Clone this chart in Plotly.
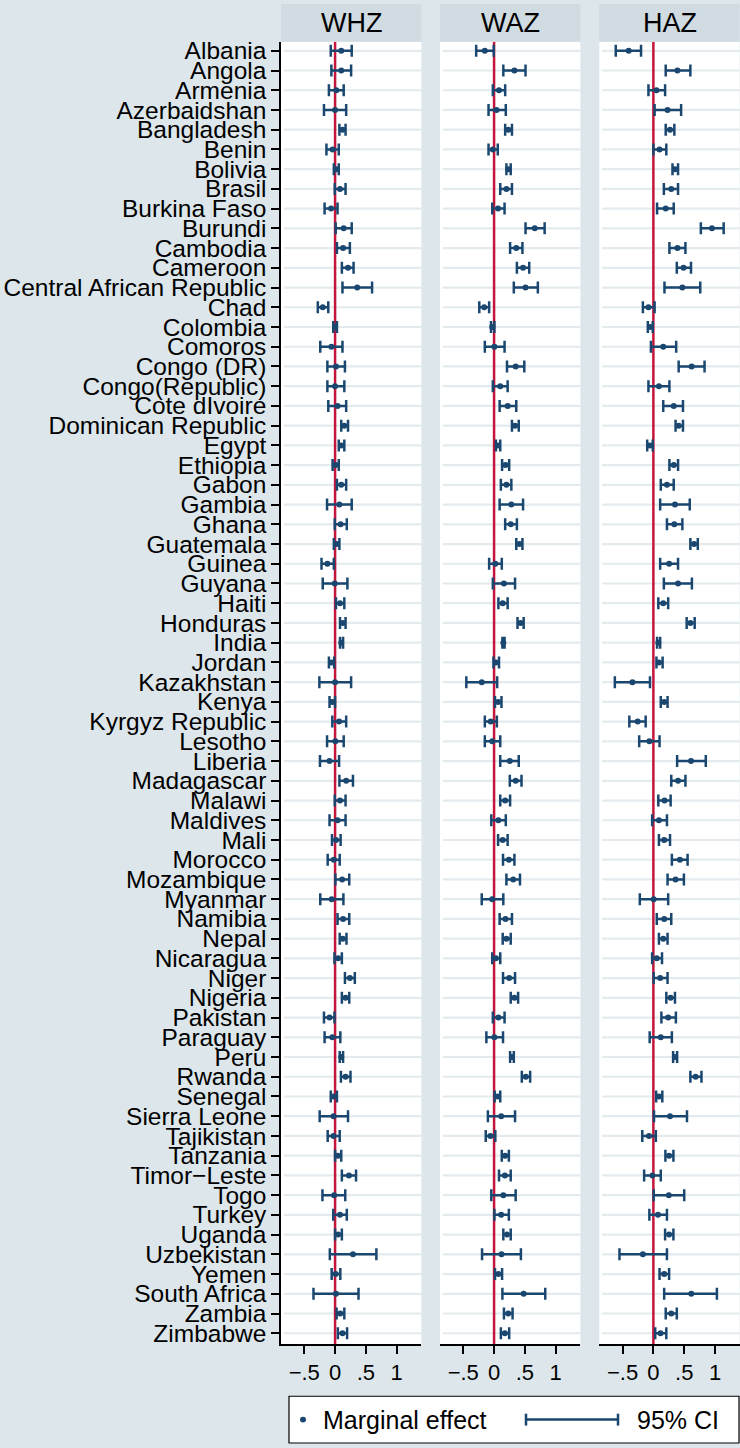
import plotly.graph_objects as go

countries = ["Albania", "Angola", "Armenia", "Azerbaidshan", "Bangladesh", "Benin", "Bolivia", "Brasil",
             "Burkina Faso", "Burundi", "Cambodia", "Cameroon", "Central African Republic", "Chad", "Colombia",
             "Comoros", "Congo (DR)", "Congo(Republic)", "Cote dIvoire", "Dominican Republic", "Egypt",
             "Ethiopia", "Gabon", "Gambia", "Ghana", "Guatemala", "Guinea", "Guyana", "Haiti", "Honduras",
             "India", "Jordan", "Kazakhstan", "Kenya", "Kyrgyz Republic", "Lesotho", "Liberia", "Madagascar",
             "Malawi", "Maldives", "Mali", "Morocco", "Mozambique", "Myanmar", "Namibia", "Nepal", "Nicaragua",
             "Niger", "Nigeria", "Pakistan", "Paraguay", "Peru", "Rwanda", "Senegal", "Sierra Leone",
             "Tajikistan", "Tanzania", "Timor\u2212Leste", "Togo", "Turkey", "Uganda", "Uzbekistan", "Yemen",
             "South Africa", "Zambia", "Zimbabwe"]

whz_lo = [-0.07, -0.06, -0.10, -0.18, 0.07, -0.14, -0.02, -0.005, -0.17, 0.01, 0.03, 0.11, 0.12, -0.28, -0.03,
          -0.24, -0.125, -0.125, -0.11, 0.10, 0.06, -0.04, 0.03, -0.13, -0.005, -0.02, -0.22, -0.20, 0.015, 0.08,
          0.08, -0.10, -0.255, -0.09, -0.045, -0.13, -0.245, 0.07, -0.005, -0.09, -0.05, -0.12, 0.005, -0.24,
          0.04, 0.075, -0.01, 0.16, 0.11, -0.18, -0.17, 0.075, 0.095, -0.07, -0.25, -0.12, 0.0, 0.11, -0.205,
          -0.03, 0.0, -0.085, -0.055, -0.35, 0.025, 0.045]
whz_est = [0.10, 0.10, 0.02, 0.0, 0.12, -0.04, 0.02, 0.08, -0.065, 0.14, 0.13, 0.21, 0.36, -0.20, 0.0,
           -0.06, 0.015, 0.0, 0.04, 0.15, 0.10, 0.01, 0.10, 0.07, 0.09, 0.03, -0.125, -0.005, 0.08, 0.125,
           0.10, -0.06, 0.0, -0.045, 0.065, 0.005, -0.09, 0.18, 0.08, 0.04, 0.015, -0.02, 0.115, -0.055,
           0.13, 0.125, 0.05, 0.24, 0.17, -0.09, -0.045, 0.10, 0.17, -0.025, -0.025, -0.025, 0.045, 0.225, -0.015,
           0.08, 0.05, 0.29, 0.01, 0.015, 0.085, 0.12]
whz_hi = [0.27, 0.26, 0.14, 0.18, 0.17, 0.06, 0.06, 0.17, 0.04, 0.27, 0.24, 0.30, 0.60, -0.11, 0.03,
          0.12, 0.16, 0.15, 0.18, 0.21, 0.15, 0.06, 0.18, 0.27, 0.19, 0.07, -0.02, 0.20, 0.15, 0.17,
          0.13, -0.015, 0.26, 0.0, 0.18, 0.14, 0.065, 0.29, 0.17, 0.17, 0.09, 0.075, 0.23, 0.135,
          0.23, 0.185, 0.11, 0.32, 0.23, -0.01, 0.085, 0.13, 0.25, 0.03, 0.21, 0.075, 0.10, 0.34, 0.165,
          0.19, 0.11, 0.67, 0.085, 0.38, 0.15, 0.195]

waz_lo = [-0.29, 0.15, -0.02, -0.09, 0.18, -0.09, 0.20, 0.10, -0.03, 0.51, 0.26, 0.37, 0.32, -0.24, -0.05,
          -0.15, 0.21, -0.02, 0.09, 0.29, 0.03, 0.13, 0.11, 0.09, 0.18, 0.36, -0.08, -0.02, 0.07, 0.38,
          0.135, -0.01, -0.45, 0.015, -0.15, -0.15, 0.10, 0.255, 0.10, -0.045, 0.065, 0.145, 0.20, -0.20,
          0.09, 0.14, -0.03, 0.145, 0.27, -0.02, -0.125, 0.26, 0.45, 0.01, -0.10, -0.135, 0.125, 0.08, -0.045,
          0.005, 0.15, -0.195, 0.015, 0.135, 0.16, 0.11]
waz_est = [-0.15, 0.33, 0.08, 0.04, 0.23, -0.02, 0.23, 0.20, 0.065, 0.66, 0.36, 0.47, 0.51, -0.16, -0.03,
           0.005, 0.35, 0.10, 0.22, 0.34, 0.06, 0.185, 0.20, 0.28, 0.27, 0.41, 0.02, 0.16, 0.14, 0.43,
           0.15, 0.03, -0.20, 0.065, -0.055, -0.03, 0.255, 0.35, 0.18, 0.07, 0.14, 0.24, 0.31, -0.03,
           0.185, 0.20, 0.03, 0.245, 0.33, 0.07, 0.005, 0.29, 0.515, 0.06, 0.115, -0.06, 0.18, 0.175, 0.15,
           0.115, 0.21, 0.12, 0.07, 0.48, 0.23, 0.175]
waz_hi = [-0.005, 0.51, 0.18, 0.19, 0.29, 0.06, 0.27, 0.29, 0.17, 0.82, 0.46, 0.57, 0.71, -0.08, 0.005,
          0.17, 0.49, 0.22, 0.36, 0.40, 0.10, 0.245, 0.28, 0.47, 0.37, 0.46, 0.125, 0.34, 0.22, 0.48,
          0.17, 0.08, 0.05, 0.12, 0.045, 0.10, 0.40, 0.445, 0.26, 0.19, 0.22, 0.33, 0.42, 0.15,
          0.29, 0.27, 0.10, 0.34, 0.39, 0.17, 0.145, 0.32, 0.585, 0.10, 0.34, 0.02, 0.24, 0.27, 0.35,
          0.24, 0.27, 0.435, 0.13, 0.83, 0.30, 0.245]

haz_lo = [-0.61, 0.20, -0.08, 0.02, 0.20, 0.0, 0.31, 0.17, 0.06, 0.77, 0.26, 0.38, 0.18, -0.17, -0.09,
          -0.04, 0.41, -0.08, 0.16, 0.36, -0.10, 0.26, 0.12, 0.11, 0.22, 0.60, 0.11, 0.17, 0.08, 0.54,
          0.06, 0.05, -0.625, 0.12, -0.39, -0.23, 0.385, 0.29, 0.08, -0.02, 0.09, 0.30, 0.23, -0.22,
          0.055, 0.09, -0.02, 0.005, 0.21, 0.13, -0.06, 0.32, 0.60, 0.045, 0.01, -0.18, 0.195, -0.15, 0.005,
          -0.065, 0.19, -0.55, 0.10, 0.175, 0.20, 0.03]
haz_est = [-0.40, 0.39, 0.05, 0.23, 0.27, 0.10, 0.35, 0.29, 0.20, 0.95, 0.39, 0.49, 0.47, -0.08, -0.05,
           0.16, 0.62, 0.09, 0.33, 0.41, -0.06, 0.33, 0.22, 0.35, 0.34, 0.66, 0.255, 0.40, 0.16, 0.60,
           0.08, 0.09, -0.34, 0.175, -0.255, -0.065, 0.61, 0.40, 0.18, 0.09, 0.175, 0.43, 0.36, 0.005,
           0.175, 0.16, 0.055, 0.11, 0.28, 0.24, 0.12, 0.35, 0.685, 0.09, 0.27, -0.07, 0.255, -0.015, 0.25,
           0.075, 0.255, -0.17, 0.175, 0.615, 0.29, 0.115]
haz_hi = [-0.20, 0.60, 0.19, 0.45, 0.34, 0.21, 0.40, 0.40, 0.33, 1.14, 0.52, 0.61, 0.76, 0.02, -0.01,
          0.37, 0.83, 0.26, 0.48, 0.48, -0.01, 0.40, 0.33, 0.59, 0.47, 0.72, 0.40, 0.625, 0.24, 0.67,
          0.11, 0.15, -0.055, 0.23, -0.125, 0.10, 0.85, 0.52, 0.28, 0.22, 0.27, 0.555, 0.495, 0.24,
          0.29, 0.23, 0.14, 0.23, 0.35, 0.365, 0.30, 0.385, 0.78, 0.145, 0.545, 0.04, 0.325, 0.12, 0.50,
          0.22, 0.325, 0.22, 0.255, 1.03, 0.38, 0.21]

panel_titles = ["WHZ", "WAZ", "HAZ"]
tick_vals = [-0.5, 0, 0.5, 1]
tick_text = ["\u2212.5", "0", ".5", "1"]

W, H = 740, 1448
FONT = "Liberation Sans, Arial, Helvetica, sans-serif"
NAVY = "#1a476f"
RED = "#c4163c"
PAGE_BG = "#dde7eb"
STRIP_BG = "#d0dce2"
GRID = "#e3ebee"

# panel geometry in pixels
panels_px = [(281, 421.4), (440, 580.4), (599.3, 739.7)]
plot_top, plot_bot = 38, 1346.7
Y_RANGE = [65.555, -0.454]

def px_x(x):
    return x / W

def px_y(y):
    return 1 - y / H

fig = go.Figure()
series = [(whz_lo, whz_est, whz_hi), (waz_lo, waz_est, waz_hi), (haz_lo, haz_est, haz_hi)]
for i, (lo, est, hi) in enumerate(series):
    xa = "x" if i == 0 else f"x{i+1}"
    fig.add_trace(go.Scatter(
        x=est, y=countries, xaxis=xa, yaxis="y", mode="markers",
        marker=dict(color=NAVY, size=6),
        error_x=dict(type="data", symmetric=False,
                     array=[h - e for h, e in zip(hi, est)],
                     arrayminus=[e - l for e, l in zip(est, lo)],
                     color=NAVY, thickness=2.5, width=6),
        showlegend=False, hoverinfo="skip"))

xaxis_common = dict(range=[-0.877, 1.40], showgrid=False, zeroline=False, showline=True,
                    linecolor="black", linewidth=1.5, ticks="outside", ticklen=8, tickwidth=1.5,
                    tickcolor="black", tickmode="array", tickvals=tick_vals, ticktext=tick_text,
                    tickfont=dict(family=FONT, size=22, color="black"), anchor="y", mirror=False)

layout = dict(width=W, height=H, autosize=False, margin=dict(l=0, r=0, t=0, b=0),
              paper_bgcolor=PAGE_BG, plot_bgcolor="white", showlegend=False,
              font=dict(family=FONT, color="black"))
for i, (a, b) in enumerate(panels_px):
    key = "xaxis" if i == 0 else f"xaxis{i+1}"
    layout[key] = dict(domain=[px_x(a), px_x(b)], **xaxis_common)

layout["yaxis"] = dict(domain=[px_y(plot_bot), px_y(plot_top)], type="category",
                       categoryorder="array", categoryarray=countries,
                       tickmode="array", tickvals=countries, ticktext=countries,
                       range=Y_RANGE, showgrid=False,
                       zeroline=False, showline=True, linecolor="black", linewidth=1.5,
                       ticks="outside", ticklen=8, tickwidth=1.5, tickcolor="black",
                       tickfont=dict(family=FONT, size=24.5, color="black"), anchor="x")
fig.update_layout(**layout)

shapes = []
annotations = []
# horizontal gridlines (one per country row, in every panel)
for i in range(3):
    xa = "x" if i == 0 else f"x{i+1}"
    for c in countries:
        shapes.append(dict(type="line", xref=f"{xa} domain", yref="y", x0=0.02, x1=1, y0=c, y1=c,
                           line=dict(color=GRID, width=2.2), layer="below"))

for i, (a, b) in enumerate(panels_px):
    xa = "x" if i == 0 else f"x{i+1}"
    # title strip
    shapes.append(dict(type="rect", xref="paper", yref="paper", x0=px_x(a), x1=px_x(b),
                       y0=px_y(plot_top), y1=1, fillcolor=STRIP_BG, line=dict(width=0), layer="below"))
    annotations.append(dict(text=panel_titles[i], xref="paper", yref="paper", x=px_x((a + b) / 2),
                            y=px_y(plot_top / 2), showarrow=False, xanchor="center", yanchor="middle",
                            font=dict(family=FONT, size=27, color="black")))
    # reference line at zero (above gridlines, below markers)
    shapes.append(dict(type="line", xref=xa, yref="y", x0=0, x1=0, y0=Y_RANGE[1], y1=Y_RANGE[0],
                       line=dict(color=RED, width=2.5), layer="below"))

# legend box
ly = 1422.5
shapes.append(dict(type="rect", xref="paper", yref="paper", x0=px_x(289), x1=px_x(739),
                   y0=px_y(1446), y1=px_y(1399), fillcolor="white", line=dict(color="black", width=1.2),
                   layer="above"))
shapes.append(dict(type="circle", xref="paper", yref="paper", x0=px_x(300), x1=px_x(306),
                   y0=px_y(ly + 3), y1=px_y(ly - 3), fillcolor=NAVY, line=dict(width=0), layer="above"))
shapes.append(dict(type="line", xref="paper", yref="paper", x0=px_x(526), x1=px_x(618),
                   y0=px_y(ly), y1=px_y(ly), line=dict(color=NAVY, width=2.5), layer="above"))
for xc in (526, 618):
    shapes.append(dict(type="line", xref="paper", yref="paper", x0=px_x(xc), x1=px_x(xc),
                       y0=px_y(ly - 6), y1=px_y(ly + 6), line=dict(color=NAVY, width=2.5), layer="above"))
annotations.append(dict(text="Marginal effect", xref="paper", yref="paper", x=px_x(321), y=px_y(ly),
                        showarrow=False, xanchor="left", yanchor="middle",
                        font=dict(family=FONT, size=25, color="black")))
annotations.append(dict(text="95% CI", xref="paper", yref="paper", x=px_x(635), y=px_y(ly),
                        showarrow=False, xanchor="left", yanchor="middle",
                        font=dict(family=FONT, size=25, color="black")))

fig.update_layout(shapes=shapes, annotations=annotations)
fig.write_html("out.html", config={"displayModeBar": False},
               post_script="document.body.style.margin='0';")
